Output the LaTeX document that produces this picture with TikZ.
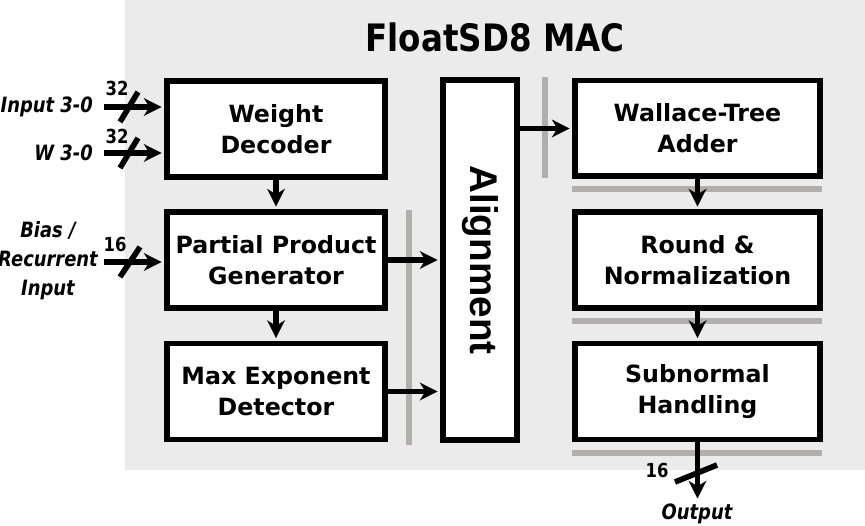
\documentclass[tikz,border=0pt]{standalone}
\usepackage{fontspec}
\setmainfont{DejaVu Sans}
\newfontfamily\narrowfont[FakeStretch=0.85]{DejaVu Sans}
\newfontfamily\titlefont[FakeStretch=0.86]{DejaVu Sans}
\newfontfamily\alignfont{Liberation Sans}
\usepackage{xcolor}
\usepackage{tikz}
\usetikzlibrary{arrows.meta,calc}

\definecolor{panelgray}{HTML}{EBEBEB}
\definecolor{bargray}{HTML}{B2AEAE}

\begin{document}
\begin{tikzpicture}[x=0.02cm,y=-0.02cm,>={Stealth[length=10pt,width=10pt,inset=3pt]},
  blk/.style={draw,line width=3.4pt,fill=white,align=center,inner sep=0pt,
    minimum width=4.36cm,minimum height=1.92cm,
    font=\bfseries\fontsize{13.5}{17.5}\selectfont},
  conn/.style={->,line width=3pt,shorten >=1.4pt},
  regbar/.style={draw=bargray,line width=3.4pt},
  buswidth/.style={line width=3.2pt},
  sig/.style={font=\narrowfont\bfseries\itshape\fontsize{12}{16.5}\selectfont},
  bits/.style={font=\narrowfont\bfseries\fontsize{11}{12}\selectfont}]
\useasboundingbox (0,0) rectangle (865,526);
\fill[panelgray] (125,0) rectangle (865,470);
\node[font=\titlefont\bfseries\fontsize{21.5}{24}\selectfont] (title) at (495,37) {FloatSD8 MAC};

% left column
\node[blk] (dec) at (276,129) {Weight\\Decoder};
\node[blk] (ppg) at (276,260) {Partial Product\\Generator};
\node[blk] (mexp) at (276,391.5) {Max Exponent\\Detector};
\node[draw,line width=3.4pt,fill=white,minimum width=1.48cm,minimum height=7.2cm] (align) at (480,260) {};
\node[font=\alignfont\bfseries\fontsize{22}{24}\selectfont,rotate=-90] (alignlab) at (align.center) {Alignment};
% right column
\node[blk,minimum width=4.9cm] (wta) at (697.5,128.5) {Wallace-Tree\\Adder};
\node[blk,minimum width=4.9cm] (rnd) at (697.5,260) {Round \&\\Normalization};
\node[blk,minimum width=4.9cm] (sub) at (697.5,391.5) {Subnormal\\Handling};

% inputs
\node[sig,anchor=east] (in1) at (99,107) {Input 3-0};
\node[sig,anchor=east] (in2) at (99,153) {W 3-0};
\node[sig,align=center] (bias) at (48,261) {Bias /\\Recurrent\\Input};
\coordinate (in1s) at (104,107);
\coordinate (in2s) at (104,153);
\coordinate (biass) at (104,262);
\draw[conn] (in1s) -- (dec.west |- in1s);
\draw[conn] (in2s) -- (dec.west |- in2s);
\draw[conn] (biass) -- (ppg.west |- biass);
\draw[buswidth] (129,107) +(-9,15) -- +(9,-15);
\draw[buswidth] (129,153) +(-9,15) -- +(9,-15);
\draw[buswidth] (130,262) +(-10,15) -- +(10,-15);
\node[bits] (w1) at (117,88) {32};
\node[bits] (w2) at (117,136) {32};
\node[bits] (w3) at (115,244) {16};

% pipeline registers
\draw[regbar] (409,210) -- (409,445);
\draw[regbar] (545,77) -- (545,178);
\draw[regbar] (572,189) -- (822,189);
\draw[regbar] (572,321) -- (822,321);
\draw[regbar] (572,453) -- (822,453);

\draw[conn] (dec) -- (ppg);
\draw[conn] (ppg) -- (mexp);
\draw[conn] (ppg.east) -- (align.west |- ppg.east);
\draw[conn] (mexp.east) -- (align.west |- mexp.east);
\draw[conn] (align.east |- wta.west) -- (wta.west);
\draw[conn] (wta) -- (rnd);
\draw[conn] (rnd) -- (sub);

% output
\coordinate (outs) at (697.5,501);
\draw[conn] (sub.south) -- (outs);
\draw[buswidth] (696,473) +(-21,9) -- +(21,-8);
\node[bits] (w4) at (657,470) {16};
\node[sig] (out) at (697,514) {Output};
\end{tikzpicture}
\end{document}
